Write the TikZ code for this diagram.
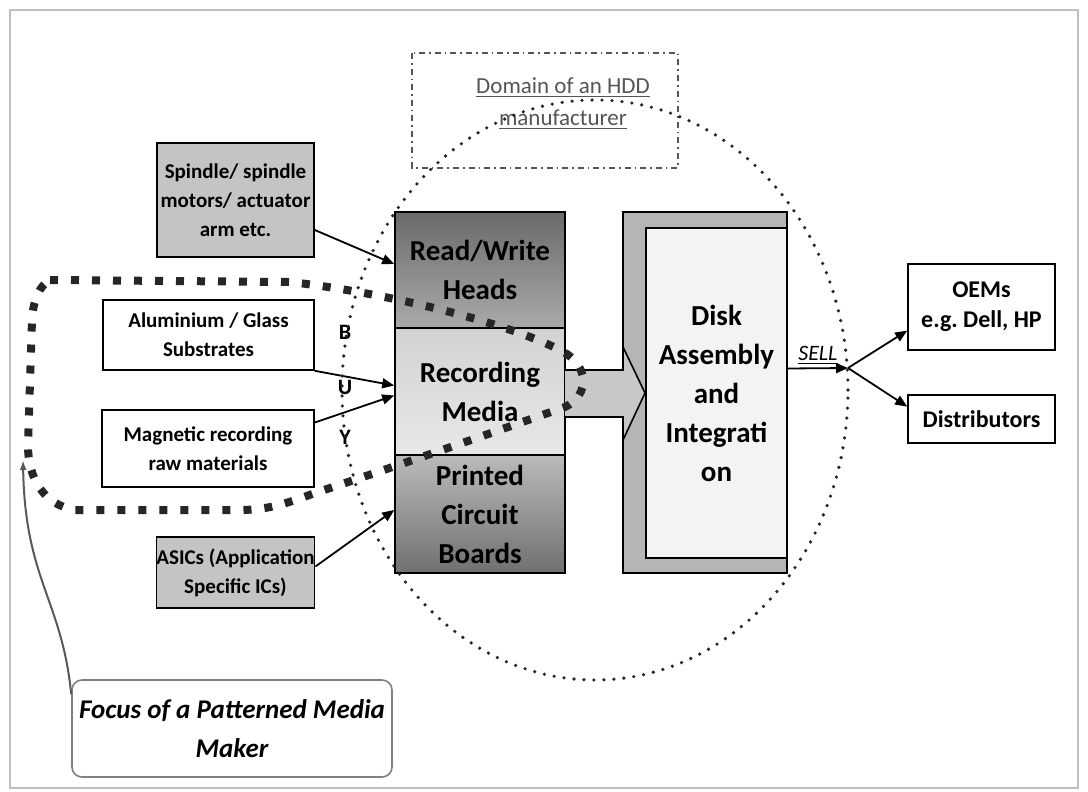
\documentclass[tikz,border=0pt]{standalone}
\usepackage{fontspec}
\setmainfont{Carlito}
\usetikzlibrary{arrows.meta,calc}
\definecolor{boxgray}{HTML}{C4C4C4}
\definecolor{headtop}{HTML}{6A6A6A}
\definecolor{headbot}{HTML}{AAAAAA}
\definecolor{mediatop}{HTML}{D2D2D2}
\definecolor{mediabot}{HTML}{E8E8E8}
\definecolor{pcbtop}{HTML}{BABABA}
\definecolor{pcbbot}{HTML}{707070}
\definecolor{framegray}{HTML}{B5B5B5}
\definecolor{innergray}{HTML}{F3F3F3}
\definecolor{arrowgray}{HTML}{C8C8C8}
\definecolor{domaingray}{HTML}{555555}

\begin{document}
\begin{tikzpicture}[x=0.5pt, y=-0.5pt,
  supply/.style={draw, line width=0.8pt, align=center, inner sep=0pt, font=\bfseries\fontsize{10.5}{14.5}\selectfont},
  part/.style={draw, line width=0.8pt, align=center, inner sep=0pt, minimum width=85pt, font=\bfseries\fontsize{14.5}{19.5}\selectfont},
  buyer/.style={draw, line width=0.8pt, align=center, inner sep=0pt, minimum width=73.5pt, font=\bfseries\fontsize{12}{15}\selectfont},
  letter/.style={inner sep=0pt, font=\bfseries\fontsize{11}{13}\selectfont},
  feed/.style={line width=0.9pt, -{Triangle[length=6pt, width=5pt]}},
  ring/.style={black!85, line width=1.8pt, line cap=round, dash pattern=on 0pt off 5pt},
  focusloop/.style={black!85, line width=4pt, dash pattern=on 4pt off 6.5pt},
  domainline/.style={domaingray, line width=0.6pt, dash pattern=on 3pt off 2pt on 0.8pt off 2pt},
  focusbox/.style={draw=gray, line width=0.8pt, rounded corners=5pt, align=center, inner sep=0pt, minimum width=160pt, minimum height=48.5pt, font=\bfseries\itshape\fontsize{13.5}{19.5}\selectfont}]

  \useasboundingbox (0,0) rectangle (1088,792);
  \draw[gray!50, line width=1pt] (10,10) rectangle (1078,788);

  \draw[domainline] (412,53) rectangle (678,168);
  \node[inner sep=0pt, align=center, text=domaingray, font=\fontsize{11.5}{16}\selectfont] (domain) at (563,104) {\underline{Domain of an HDD}\\\underline{manufacturer}};

  \node[supply, fill=boxgray, minimum width=78.5pt, minimum height=57pt] (spindle) at (235.5,200) {Spindle/ spindle\\motors/ actuator\\arm etc.};
  \node[supply, minimum width=105.5pt, minimum height=35pt] (substrate) at (208.5,335) {Aluminium / Glass\\Substrates};
  \node[supply, minimum width=106pt, minimum height=38.5pt] (rawmat) at (208,448.5) {Magnetic recording\\raw materials};
  \node[supply, fill=boxgray, minimum width=78.5pt, minimum height=35.5pt] (asics) at (235.5,572.5) {ASICs (Application\\Specific ICs)};

  \node[part, top color=headtop, bottom color=headbot, minimum height=58pt] (heads) at (480,270) {Read/Write\\Heads};
  \node[part, top color=mediatop, bottom color=mediabot, minimum height=63.5pt] (media) at (480,391.5) {Recording\\Media};
  \node[part, top color=pcbtop, bottom color=pcbbot, minimum height=59pt] (pcb) at (480,514) {Printed\\Circuit\\Boards};

  \node[draw, line width=0.8pt, fill=framegray, inner sep=0pt, minimum width=82pt, minimum height=180.5pt] (disk) at (705,392.5) {};
  \node[draw, line width=0.8pt, fill=innergray, inner sep=0pt, minimum width=70.5pt, minimum height=165pt, align=center, font=\bfseries\fontsize{14.5}{19.5}\selectfont] (assembly) at (716.5,393) {Disk\\Assembly\\and\\Integrati\\on};

  \filldraw[fill=arrowgray, line width=0.8pt] (565,370) -- (623,370) -- (623,347) -- (645,393) -- (623,440) -- (623,417) -- (565,417);

  \node[buyer, minimum height=43pt] (oem) at (981.5,307) {OEMs\\e.g.\ Dell, HP};
  \node[buyer, minimum height=24pt] (dist) at (981.5,419) {Distributors};

  \draw[feed] ([yshift=-15pt]spindle.east) -- ([yshift=3pt]heads.west);
  \draw[feed] (substrate.south east) -- ([yshift=3pt]media.west);
  \draw[feed] ([yshift=13pt]rawmat.east) -- ([yshift=-2pt]media.west);
  \draw[feed] ([yshift=3pt]asics.east) -- ([yshift=2pt]pcb.west);

  \node[letter] (buyb) at (345,332) {B};
  \node[letter] (buyu) at (345,387) {U};
  \node[letter] (buyy) at (345,437) {Y};

  \coordinate (split) at (848,368);
  \draw[feed] ([yshift=12pt]disk.east) -- node[above, inner sep=1.5pt, font=\itshape\fontsize{11}{13}\selectfont] (sell) {\underline{SELL}} (split);
  \draw[feed] (split) -- ($(oem.south west)!0.23!(oem.north west)$);
  \draw[feed] (split) -- ($(dist.north west)!0.25!(dist.south west)$);

  \draw[ring] (595,390) ellipse [x radius=126.5pt, y radius=145pt];

  \draw[focusloop] (50,280) -- (290,282) .. controls (380,292) and (500,320) .. (560,350) .. controls (590,365) and (590,395) .. (565,407) .. controls (500,430) and (400,465) .. (315,493) .. controls (290,502) and (270,510) .. (240,510) -- (75,510) .. controls (45,505) and (28,480) .. (28,445) -- (32,320) .. controls (33,300) and (40,285) .. (50,280) -- cycle;

  \node[focusbox] (focus) at (232,728.5) {Focus of a Patterned Media\\Maker};
  \coordinate (looptip) at (23,460);
  \draw[gray!70!black, line width=1pt, -{Latex[length=5pt, width=3.5pt]}] ([yshift=-7.5pt]focus.north west) .. controls (62,600) and (25,580) .. (looptip);

\end{tikzpicture}
\end{document}
